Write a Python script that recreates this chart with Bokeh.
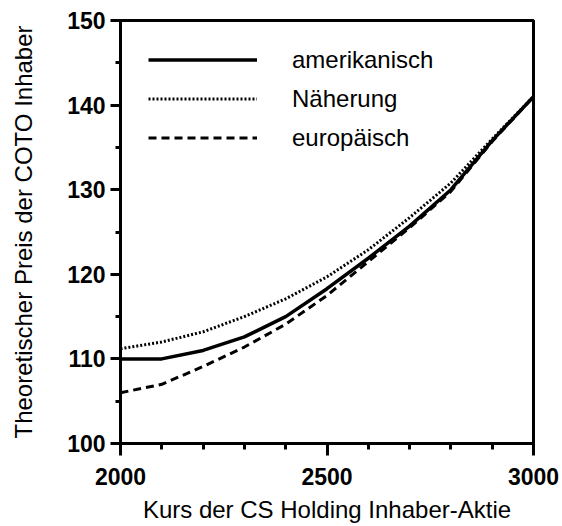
from bokeh.plotting import figure
from bokeh.models import Range1d, FixedTicker, Legend, LegendItem
from bokeh.embed import file_html
from bokeh.resources import INLINE

# ---- data ----
kurs = [2000, 2100, 2200, 2300, 2400, 2500, 2600, 2700, 2800, 2900, 3000]
amerikanisch = [110.0, 110.0, 111.0, 112.6, 115.0, 118.3, 121.9, 125.7, 130.0, 135.8, 141.0]
naeherung = [111.2, 112.0, 113.2, 115.0, 117.1, 119.7, 122.9, 126.7, 130.8, 136.0, 141.0]
europaeisch = [106.0, 107.0, 109.1, 111.4, 114.1, 117.5, 121.5, 125.5, 129.8, 135.7, 141.0]

series_labels = ["amerikanisch", "Näherung", "europäisch"]
x_ticks = [2000, 2500, 3000]
x_minor_ticks = [2100, 2200, 2300, 2400, 2600, 2700, 2800, 2900]
y_ticks = [100, 110, 120, 130, 140, 150]
y_minor_ticks = [105, 115, 125, 135, 145]
x_title = "Kurs der CS Holding Inhaber-Aktie"
y_title = "Theoretischer Preis der COTO Inhaber"

FONT = "Liberation Sans"

p = figure(width=562, height=526, output_backend="svg", toolbar_location=None,
           x_range=Range1d(2000, 3000), y_range=Range1d(100, 150),
           min_border_left=120, min_border_right=29, min_border_top=20,
           min_border_bottom=83, x_axis_label=x_title, y_axis_label=y_title)

p.grid.visible = False
p.outline_line_color = "black"
p.outline_line_width = 3
p.outline_line_alpha = 1.0
p.background_fill_color = "white"
p.border_fill_color = "white"

p.xaxis.ticker = FixedTicker(ticks=x_ticks, minor_ticks=x_minor_ticks)
p.yaxis.ticker = FixedTicker(ticks=y_ticks, minor_ticks=y_minor_ticks)

for ax in (p.xaxis[0], p.yaxis[0]):
    ax.axis_line_width = 3
    ax.axis_line_color = "black"
    ax.major_tick_line_width = 3
    ax.minor_tick_line_width = 3
    ax.major_tick_line_color = "black"
    ax.minor_tick_line_color = "black"
    ax.major_tick_in = 0
    ax.minor_tick_in = 0
    ax.major_label_text_font = FONT
    ax.major_label_text_font_size = "23px"
    ax.major_label_text_font_style = "bold"
    ax.major_label_text_color = "black"
    ax.axis_label_text_font = FONT
    ax.axis_label_text_font_size = "24px"
    ax.axis_label_text_font_style = "normal"
    ax.axis_label_text_color = "black"

p.xaxis.major_tick_out = 12
p.xaxis.minor_tick_out = 6
p.xaxis.major_label_standoff = 12
p.xaxis.axis_label_standoff = 8

p.yaxis.major_tick_out = 10
p.yaxis.minor_tick_out = 5
p.yaxis.major_label_standoff = 5
p.yaxis.axis_label_standoff = 27

r_am = p.line(kurs, amerikanisch, line_color="black", line_width=3.5)
r_na = p.line(kurs, naeherung, line_color="black", line_width=3, line_dash="2 2")
r_eu = p.line(kurs, europaeisch, line_color="black", line_width=3, line_dash="8 5")

legend = Legend(items=[LegendItem(label=series_labels[0], renderers=[r_am]),
                       LegendItem(label=series_labels[1], renderers=[r_na]),
                       LegendItem(label=series_labels[2], renderers=[r_eu])],
                location=(28, 286), glyph_width=109, glyph_height=39,
                label_height=39, label_standoff=35, spacing=0, padding=0, margin=0,
                label_text_font=FONT, label_text_font_size="24px",
                label_text_color="black",
                border_line_alpha=0, background_fill_alpha=0)
p.add_layout(legend, "center")

open("out.html", "w").write(file_html(p, INLINE))
